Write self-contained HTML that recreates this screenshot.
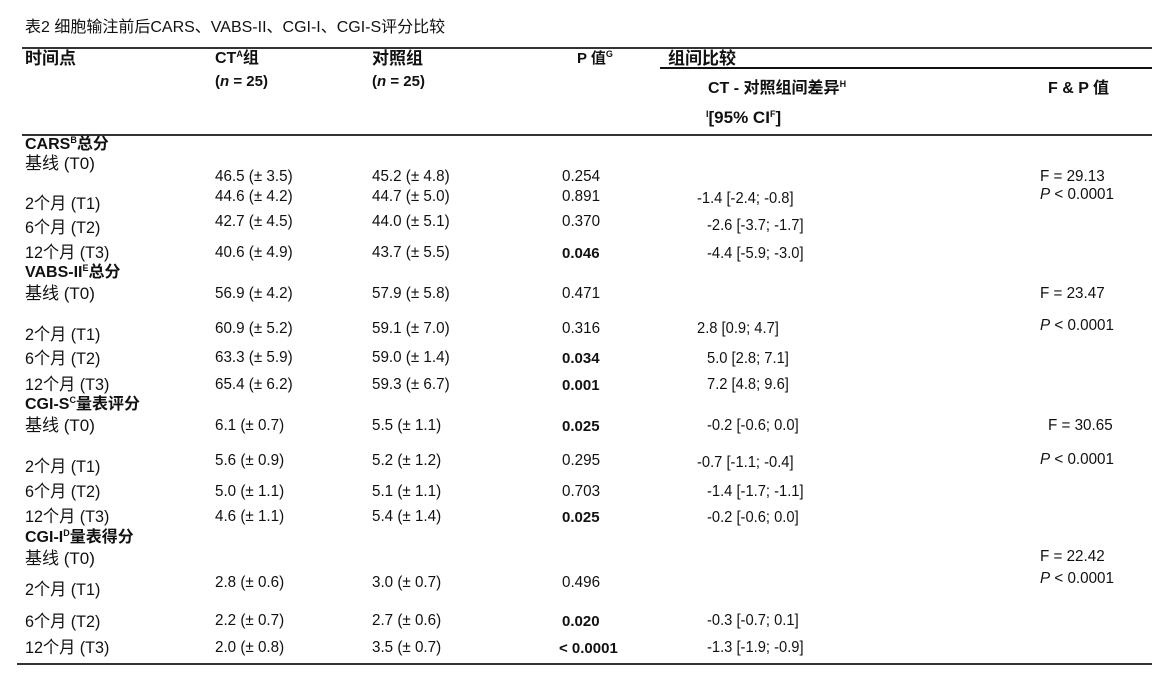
<!DOCTYPE html>
<html><head><meta charset="utf-8"><style>
body{margin:0;width:1162px;height:681px;background:#fff;position:relative;overflow:hidden;font-family:"Liberation Sans","Noto Sans CJK SC",sans-serif;color:#111}
.t{position:absolute;white-space:nowrap;line-height:18px;font-size:16px}
.n{transform:scaleX(0.95);transform-origin:left center;font-size:16px}
.c{transform:scaleX(0.95);transform-origin:left center;font-size:15.5px}
.l{font-size:17px}
.b{font-weight:bold}
.h{position:absolute;height:2px;background:#333}
sup{font-size:9px;vertical-align:6px;line-height:0}
</style></head><body>
<div class="t" style="left:25px;top:19px;font-size:16px">表2 细胞输注前后CARS、VABS-II、CGI-I、CGI-S评分比较</div>
<div class="h" style="left:22px;top:47px;width:1130px"></div>
<div class="h" style="left:660px;top:67px;width:492px;height:2px;background:#111"></div>
<div class="h" style="left:22px;top:134px;width:1130px"></div>
<div class="h" style="left:17px;top:663px;width:1135px"></div>

<div class="t b" style="left:25px;top:50px;font-size:17px">时间点</div>
<div class="t b" style="left:215px;top:50px;font-size:16px">CT<sup>A</sup>组</div>
<div class="t b" style="left:215px;top:73px;font-size:15px">(<i>n</i> = 25)</div>
<div class="t b" style="left:372px;top:50px;font-size:17px">对照组</div>
<div class="t b" style="left:372px;top:73px;font-size:15px">(<i>n</i> = 25)</div>
<div class="t b" style="left:577px;top:50px;font-size:15px">P 值<sup>G</sup></div>
<div class="t b" style="left:668px;top:50px;font-size:17px">组间比较</div>
<div class="t b" style="left:708px;top:80px;font-size:16px">CT - 对照组间差异<sup>H</sup></div>
<div class="t b" style="left:706px;top:109px;font-size:17px"><sup>I</sup>[95% CI<sup>F</sup>]</div>
<div class="t b" style="left:1048px;top:80px;font-size:16px">F &amp; P 值</div>

<div class="t b" style="left:25px;top:136px;font-size:16px">CARS<sup>B</sup>总分</div>
<div class="t l" style="left:25px;top:155px">基线 (T0)</div>
<div class="t n" style="left:215px;top:168px">46.5 (± 3.5)</div>
<div class="t n" style="left:372px;top:168px">45.2 (± 4.8)</div>
<div class="t n" style="left:562px;top:168px">0.254</div>
<div class="t n" style="left:1040px;top:168px">F = 29.13</div>
<div class="t n l" style="left:25px;top:195px">2个月 (T1)</div>
<div class="t n" style="left:215px;top:188px">44.6 (± 4.2)</div>
<div class="t n" style="left:372px;top:188px">44.7 (± 5.0)</div>
<div class="t n" style="left:562px;top:188px">0.891</div>
<div class="t c" style="left:697px;top:190px">-1.4 [-2.4; -0.8]</div>
<div class="t n" style="left:1040px;top:186px"><i>P</i> &lt; 0.0001</div>
<div class="t n l" style="left:25px;top:219px">6个月 (T2)</div>
<div class="t n" style="left:215px;top:213px">42.7 (± 4.5)</div>
<div class="t n" style="left:372px;top:213px">44.0 (± 5.1)</div>
<div class="t n" style="left:562px;top:213px">0.370</div>
<div class="t c" style="left:707px;top:217px">-2.6 [-3.7; -1.7]</div>
<div class="t n l" style="left:25px;top:244px">12个月 (T3)</div>
<div class="t n" style="left:215px;top:244px">40.6 (± 4.9)</div>
<div class="t n" style="left:372px;top:244px">43.7 (± 5.5)</div>
<div class="t b" style="left:562px;top:245px;font-size:15px">0.046</div>
<div class="t c" style="left:707px;top:245px">-4.4 [-5.9; -3.0]</div>

<div class="t b" style="left:25px;top:264px;font-size:16px">VABS-II<sup>E</sup>总分</div>
<div class="t l" style="left:25px;top:285px">基线 (T0)</div>
<div class="t n" style="left:215px;top:285px">56.9 (± 4.2)</div>
<div class="t n" style="left:372px;top:285px">57.9 (± 5.8)</div>
<div class="t n" style="left:562px;top:285px">0.471</div>
<div class="t n" style="left:1040px;top:285px">F = 23.47</div>
<div class="t n l" style="left:25px;top:326px">2个月 (T1)</div>
<div class="t n" style="left:215px;top:320px">60.9 (± 5.2)</div>
<div class="t n" style="left:372px;top:320px">59.1 (± 7.0)</div>
<div class="t n" style="left:562px;top:320px">0.316</div>
<div class="t c" style="left:697px;top:320px">2.8 [0.9; 4.7]</div>
<div class="t n" style="left:1040px;top:317px"><i>P</i> &lt; 0.0001</div>
<div class="t n l" style="left:25px;top:350px">6个月 (T2)</div>
<div class="t n" style="left:215px;top:349px">63.3 (± 5.9)</div>
<div class="t n" style="left:372px;top:349px">59.0 (± 1.4)</div>
<div class="t b" style="left:562px;top:350px;font-size:15px">0.034</div>
<div class="t c" style="left:707px;top:350px">5.0 [2.8; 7.1]</div>
<div class="t n l" style="left:25px;top:376px">12个月 (T3)</div>
<div class="t n" style="left:215px;top:376px">65.4 (± 6.2)</div>
<div class="t n" style="left:372px;top:376px">59.3 (± 6.7)</div>
<div class="t b" style="left:562px;top:377px;font-size:15px">0.001</div>
<div class="t c" style="left:707px;top:376px">7.2 [4.8; 9.6]</div>

<div class="t b" style="left:25px;top:396px;font-size:16px">CGI-S<sup>C</sup>量表评分</div>
<div class="t l" style="left:25px;top:417px">基线 (T0)</div>
<div class="t n" style="left:215px;top:417px">6.1 (± 0.7)</div>
<div class="t n" style="left:372px;top:417px">5.5 (± 1.1)</div>
<div class="t b" style="left:562px;top:418px;font-size:15px">0.025</div>
<div class="t c" style="left:707px;top:417px">-0.2 [-0.6; 0.0]</div>
<div class="t n" style="left:1048px;top:417px">F = 30.65</div>
<div class="t n l" style="left:25px;top:458px">2个月 (T1)</div>
<div class="t n" style="left:215px;top:452px">5.6 (± 0.9)</div>
<div class="t n" style="left:372px;top:452px">5.2 (± 1.2)</div>
<div class="t n" style="left:562px;top:452px">0.295</div>
<div class="t c" style="left:697px;top:454px">-0.7 [-1.1; -0.4]</div>
<div class="t n" style="left:1040px;top:451px"><i>P</i> &lt; 0.0001</div>
<div class="t n l" style="left:25px;top:483px">6个月 (T2)</div>
<div class="t n" style="left:215px;top:483px">5.0 (± 1.1)</div>
<div class="t n" style="left:372px;top:483px">5.1 (± 1.1)</div>
<div class="t n" style="left:562px;top:483px">0.703</div>
<div class="t c" style="left:707px;top:483px">-1.4 [-1.7; -1.1]</div>
<div class="t n l" style="left:25px;top:508px">12个月 (T3)</div>
<div class="t n" style="left:215px;top:508px">4.6 (± 1.1)</div>
<div class="t n" style="left:372px;top:508px">5.4 (± 1.4)</div>
<div class="t b" style="left:562px;top:509px;font-size:15px">0.025</div>
<div class="t c" style="left:707px;top:509px">-0.2 [-0.6; 0.0]</div>

<div class="t b" style="left:25px;top:529px;font-size:16px">CGI-I<sup>D</sup>量表得分</div>
<div class="t l" style="left:25px;top:550px">基线 (T0)</div>
<div class="t n" style="left:1040px;top:548px">F = 22.42</div>
<div class="t n l" style="left:25px;top:581px">2个月 (T1)</div>
<div class="t n" style="left:215px;top:574px">2.8 (± 0.6)</div>
<div class="t n" style="left:372px;top:574px">3.0 (± 0.7)</div>
<div class="t n" style="left:562px;top:574px">0.496</div>
<div class="t n" style="left:1040px;top:570px"><i>P</i> &lt; 0.0001</div>
<div class="t n l" style="left:25px;top:613px">6个月 (T2)</div>
<div class="t n" style="left:215px;top:612px">2.2 (± 0.7)</div>
<div class="t n" style="left:372px;top:612px">2.7 (± 0.6)</div>
<div class="t b" style="left:562px;top:613px;font-size:15px">0.020</div>
<div class="t c" style="left:707px;top:612px">-0.3 [-0.7; 0.1]</div>
<div class="t n l" style="left:25px;top:639px">12个月 (T3)</div>
<div class="t n" style="left:215px;top:639px">2.0 (± 0.8)</div>
<div class="t n" style="left:372px;top:639px">3.5 (± 0.7)</div>
<div class="t b" style="left:559px;top:640px;font-size:15px">&lt; 0.0001</div>
<div class="t c" style="left:707px;top:639px">-1.3 [-1.9; -0.9]</div>
</body></html>
